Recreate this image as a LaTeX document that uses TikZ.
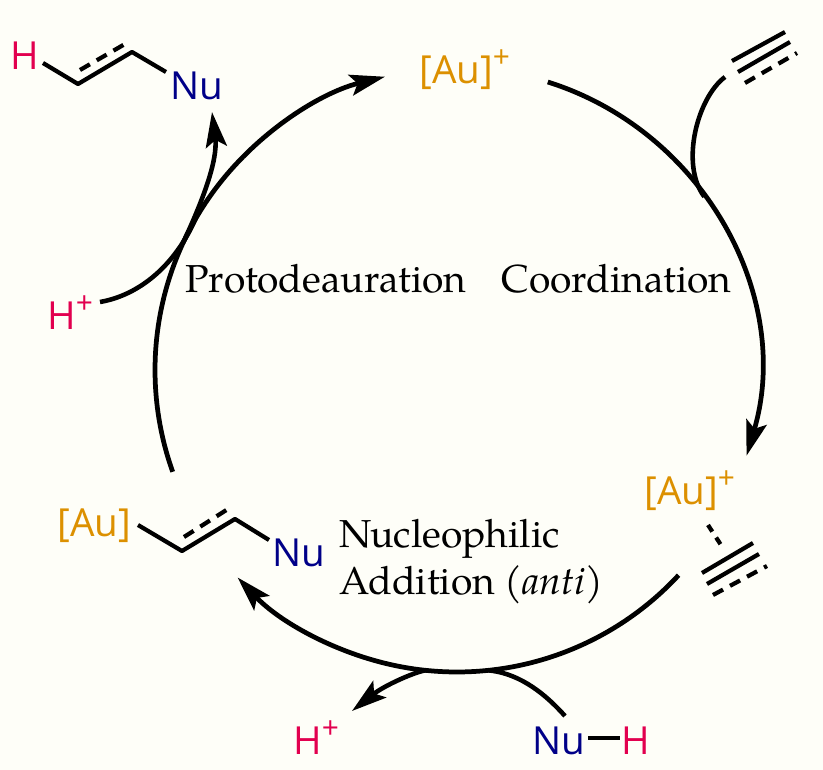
\documentclass[tikz,border=0pt]{standalone}
\usepackage{fontspec}
\setmainfont{TeX Gyre Pagella}
\newfontfamily\chemfont{Open Sans}
\usepackage{xcolor}
\usetikzlibrary{arrows.meta}

\definecolor{aucol}{HTML}{DC9000}
\definecolor{hcol}{HTML}{E2004F}
\definecolor{nucol}{HTML}{000088}
\definecolor{paper}{HTML}{FEFEF8}

\tikzset{
  cyc/.style={line width=2.7pt,-{Stealth[length=20pt,width=12pt,inset=4pt]}},
  side/.style={line width=2.6pt},
  bond/.style={line width=2.4pt},
  dbond/.style={line width=2.4pt,dash pattern=on 6.5pt off 4.5pt},
  chem/.style={font=\chemfont\fontsize{22}{22}\selectfont,inner sep=0pt},
  stagetext/.style={font=\fontsize{22.2}{26}\selectfont,inner sep=0pt,anchor=base west}
}
\newcommand{\plus}{\raisebox{0.42em}{\fontsize{17}{17}\selectfont+}}

\begin{document}
\begin{tikzpicture}[x=0.02cm,y=-0.02cm]
\fill[paper] (0,0) rectangle (823,770);
\coordinate (C) at (457,370);

% points on the cycle
\path (C) ++(-72.5:302) coordinate (a1);
\path (C) ++(16.5:302) coordinate (a2);
\path (C) ++(42.8:302) coordinate (b1);
\path (C) ++(136.6:302) coordinate (b2);
\path (C) ++(160.3:302) coordinate (c1);
\path (C) ++(-103.8:302) coordinate (c2);

\draw[cyc] (a1) arc[start angle=-72.5,end angle=16.5,radius=302];
\draw[cyc] (b1) arc[start angle=42.8,end angle=136.6,radius=302];
\draw[cyc] (c1) arc[start angle=160.3,end angle=256.2,radius=302];

% side arrows
\path (C) ++(-35:302) coordinate (alkin);
\path (C) ++(84:302) coordinate (nuhin);
\path (C) ++(96:302) coordinate (hout);
\path (C) ++(-150:302) coordinate (hin);
\path (C) ++(-155:302) coordinate (prodout);
\coordinate (alkend) at (725,77);
\coordinate (nuhend) at (565,716);
\coordinate (houttip) at (352,711);
\coordinate (hinend) at (100,302);
\coordinate (prodtip) at (212,112);

\draw[side] (alkend) .. controls (697,98) and (680,165) .. (alkin);
\draw[side] (nuhend) .. controls (540,688) and (515,673) .. (nuhin);
\draw[side,-{Stealth[length=20pt,width=12pt,inset=4pt]}] (hout) .. controls (415,672) and (385,685) .. (houttip);
\draw[side] (hinend) .. controls (140,295) and (175,265) .. (hin);
\draw[side,-{Stealth[length=20pt,width=12pt,inset=4pt]}] (prodout) .. controls (203,200) and (218,160) .. (prodtip);

% stage names
\node[stagetext] (proto) at (185,293) {Protodeauration};
\node[stagetext] (coord) at (501,293) {Coordination};
\node[stagetext] (nuc1) at (339,548) {Nucleophilic};
\node[stagetext] (nuc2) at (339,595) {Addition (\textit{anti})};

% [Au]+ top
\node[chem,anchor=base west,text=aucol] (au1) at (419,84) {[Au]\plus};

% alkyne top right
\draw[bond] (732,61) -- (785,32);
\draw[bond] (738,72) -- (790,42);
\draw[dbond] (745,83) -- (797,53);

% pi complex
\node[chem,anchor=base west,text=aucol] (au2) at (644,505) {[Au]\plus};
\draw[bond,dash pattern=on 4.5pt off 4pt] (708,525) -- (721,545);
\draw[bond] (702,573) -- (753,543);
\draw[bond] (707,584) -- (759,554);
\draw[dbond] (713,595) -- (767,566);

% Nu-H and H+
\node[chem,anchor=base,text=nucol] (nu3) at (559,755) {Nu};
\node[chem,anchor=base,text=hcol] (h3) at (636,755) {H};
\draw[bond] (588,738) -- (620,738);
\node[chem,anchor=base west,text=hcol] (hp1) at (293,755) {H\plus};

% vinyl gold
\node[chem,anchor=base west,text=aucol] (au3) at (57,537) {[Au]};
\coordinate (v1) at (138,525);
\coordinate (v2) at (182,551);
\coordinate (v3) at (235,519);
\coordinate (v4) at (269,540);
\draw[bond,line join=round] (v1) -- (v2) -- (v3) -- (v4);
\draw[dbond] (184,537) -- (228,509);
\node[chem,anchor=base,text=nucol] (nu2) at (299,567) {Nu};

% product
\node[chem,anchor=base,text=hcol] (h1) at (25,70) {H};
\coordinate (p1) at (43,63);
\coordinate (p2) at (78,84);
\coordinate (p3) at (132,52);
\coordinate (p4) at (166,72);
\draw[bond,line join=round] (p1) -- (p2) -- (p3) -- (p4);
\draw[dbond] (80,70) -- (125,44);
\node[chem,anchor=base,text=nucol] (nu1) at (197,100) {Nu};
\node[chem,anchor=base west,text=hcol] (hp2) at (47,330) {H\plus};
\end{tikzpicture}
\end{document}
